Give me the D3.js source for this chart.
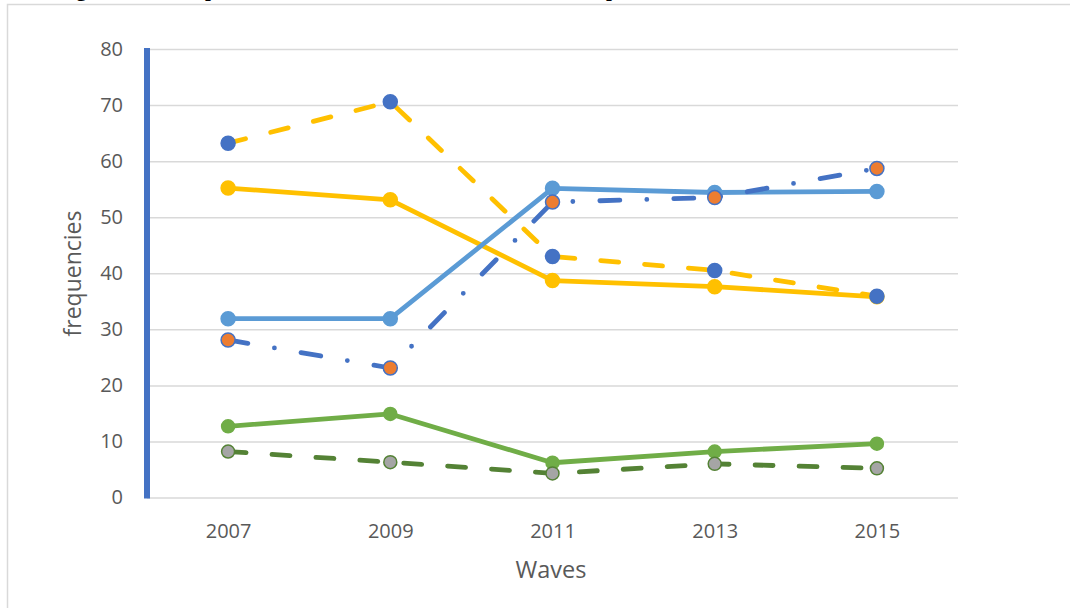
<!DOCTYPE html>
<html>
<head>
<meta charset="utf-8">
<script src="https://cdn.jsdelivr.net/npm/d3@7"></script>
<style>
  html, body { margin: 0; padding: 0; background: #fff; }
  svg { display: block; }
</style>
</head>
<body>
<svg id="chart" width="1070" height="608"></svg>
<script>
// ---- data ----
const waves = ["2007", "2009", "2011", "2013", "2015"];
const yTickValues = [0, 10, 20, 30, 40, 50, 60, 70, 80];
const yellowSolid    = [55.2, 53.1, 38.7, 37.6, 35.8];
const yellowDashed   = [63.2, 70.6, 43.0, 40.5, 35.9];
const lightBlueSolid = [31.9, 31.9, 55.15, 54.4, 54.6];
const blueDashDot    = [28.1, 23.1, 52.7, 53.5, 58.7];
const greenSolid     = [12.7, 14.9, 6.2, 8.2, 9.6];
const greenDashed    = [8.2, 6.3, 4.3, 6.0, 5.2];
const xTitle = "Waves";
const yTitle = "frequencies";

(function () {
// ---- layout ----
const svg = d3.select("#chart");
const pLeft = 147, pRight = 958, pTop = 49, pBottom = 497.5;

svg.append("rect").attr("width", 1070).attr("height", 608).attr("fill", "#fff");

// cropped title (only descenders visible, as in the reference)
const title = svg.append("text")
  .attr("y", -4)
  .attr("font-family", "'Liberation Serif', serif")
  .attr("font-weight", "bold")
  .attr("font-size", 21)
  .attr("fill", "#000");
title.append("tspan").attr("x", 12).text("Housing share of");
title.append("tspan").attr("x", 205).text("perceived health and social care need");
title.append("tspan").attr("x", 606).text("patterns across the waves");

// outer frame
svg.append("path")
  .attr("d", "M7.5,612 V4.5 H1075")
  .attr("fill", "none")
  .attr("stroke", "#d9d9d9")
  .attr("stroke-width", 1.5);

const x = d3.scalePoint().domain(waves).range([pLeft, pRight]).padding(0.5);
const y = d3.scaleLinear().domain([0, 80]).range([pBottom, pTop]);

// y axis with gridlines
const yAxis = svg.append("g")
  .attr("transform", `translate(${pLeft},0)`)
  .call(d3.axisLeft(y).tickValues(yTickValues).tickSizeInner(-(pRight - pLeft)).tickSizeOuter(0).tickPadding(24));
yAxis.select(".domain").remove();
yAxis.selectAll(".tick line").attr("stroke", "#d9d9d9").attr("stroke-width", 1.5);
yAxis.selectAll(".tick text")
  .attr("font-family", "'Open Sans', sans-serif")
  .attr("font-size", 20)
  .attr("fill", "#595959");

// x axis
const xAxis = svg.append("g")
  .attr("transform", `translate(0,${pBottom})`)
  .call(d3.axisBottom(x).tickSize(0).tickPadding(26));
xAxis.select(".domain").remove();
xAxis.selectAll(".tick text")
  .attr("font-family", "'Open Sans', sans-serif")
  .attr("font-size", 20)
  .attr("fill", "#595959");

// thick blue vertical axis line
svg.append("line")
  .attr("x1", pLeft).attr("x2", pLeft)
  .attr("y1", y(80) - 1).attr("y2", y(0) + 1)
  .attr("stroke", "#4472c4").attr("stroke-width", 6);

// axis titles
svg.append("text")
  .attr("x", 551).attr("y", 577.5)
  .attr("text-anchor", "middle")
  .attr("font-family", "'Open Sans', sans-serif")
  .attr("font-size", 23.5)
  .attr("fill", "#595959")
  .text(xTitle);
svg.append("text")
  .attr("transform", "translate(80.5,273.5) rotate(-90)")
  .attr("text-anchor", "middle")
  .attr("font-family", "'Open Sans', sans-serif")
  .attr("font-size", 23)
  .attr("fill", "#595959")
  .text(yTitle);

// ---- series ----
const line = d3.line().x((d, i) => x(waves[i])).y(d => y(d));

const series = [
  { values: greenSolid,     stroke: "#70ad47", dash: null,          mFill: "#70ad47", mStroke: "#70ad47", r: 6.5 },
  { values: yellowSolid,    stroke: "#ffc000", dash: null,          mFill: "#ffc000", mStroke: "#ffc000", r: 7 },
  { values: lightBlueSolid, stroke: "#5b9bd5", dash: null,          mFill: "#5b9bd5", mStroke: "#5b9bd5", r: 7 },
  { values: greenDashed,    stroke: "#548235", dash: "18 26",       mFill: "#a5a5a5", mStroke: "#548235", r: 6.5 },
  { values: yellowDashed,   stroke: "#ffc000", dash: "18 26",       mFill: "#4472c4", mStroke: "#4472c4", r: 7 },
  { values: blueDashDot,    stroke: "#4472c4", dash: "20 27 0 27",  mFill: "#ed7d31", mStroke: "#4472c4", r: 7 }
];

series.forEach(s => {
  const g = svg.append("g");
  g.append("path")
    .datum(s.values)
    .attr("d", line)
    .attr("fill", "none")
    .attr("stroke", s.stroke)
    .attr("stroke-width", 4.8)
    .attr("stroke-linecap", "round")
    .attr("stroke-linejoin", "round")
    .attr("stroke-dasharray", s.dash);
  g.selectAll("circle")
    .data(s.values)
    .join("circle")
    .attr("cx", (d, i) => x(waves[i]))
    .attr("cy", d => y(d))
    .attr("r", s.r)
    .attr("fill", s.mFill)
    .attr("stroke", s.mStroke)
    .attr("stroke-width", 1.5);
});
})();
</script>
</body>
</html>
